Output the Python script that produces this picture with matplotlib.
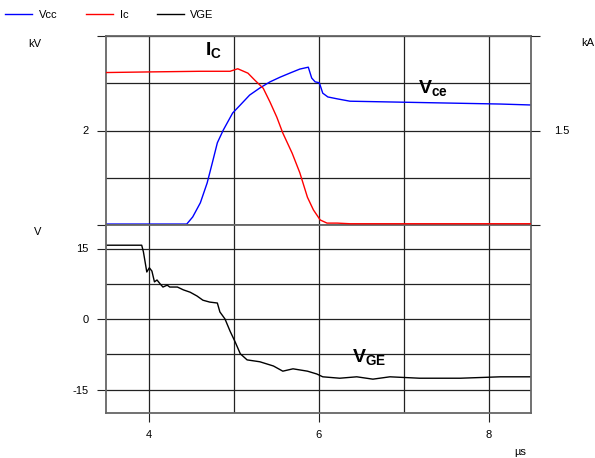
import matplotlib
matplotlib.use('Agg')
import matplotlib.pyplot as plt

plt.rcParams['font.family'] = 'Liberation Sans'
plt.rcParams['mathtext.fontset'] = 'custom'
plt.rcParams['mathtext.rm'] = 'Liberation Sans'
plt.rcParams['mathtext.bf'] = 'Liberation Sans:bold'
plt.rcParams['axes.unicode_minus'] = False

# Vcc in kV (oberes Feld, linke Achse)
t_vcc = [3.5, 4.45, 4.52, 4.61, 4.69, 4.75, 4.81, 4.88, 4.99, 5.08, 5.19, 5.31, 5.43,
         5.55, 5.67, 5.78, 5.88, 5.92, 5.96, 6.01, 6.05, 6.11, 6.22, 6.37, 6.96, 7.55, 8.14, 8.5]
vcc = [0.02, 0.02, 0.17, 0.47, 0.89, 1.31, 1.74, 2.01, 2.37, 2.54, 2.75, 2.90, 3.03,
       3.13, 3.22, 3.30, 3.34, 3.11, 3.03, 3.01, 2.79, 2.71, 2.67, 2.62, 2.60, 2.58, 2.56, 2.54]

# Ic in kA (oberes Feld, rechte Achse)
t_ic = [3.5, 4.02, 4.61, 4.96, 5.05, 5.17, 5.25, 5.35, 5.43, 5.51, 5.58, 5.69, 5.78,
        5.87, 5.94, 6.02, 6.10, 6.22, 6.37, 8.5]
ic = [2.42, 2.43, 2.44, 2.44, 2.48, 2.41, 2.30, 2.17, 1.95, 1.71, 1.46, 1.14, 0.83,
      0.44, 0.24, 0.08, 0.03, 0.03, 0.02, 0.02]

# VGE in V (unteres Feld)
t_vge = [3.51, 3.92, 3.94, 3.98, 4.01, 4.04, 4.07, 4.10, 4.14, 4.17, 4.22, 4.25, 4.34,
         4.41, 4.49, 4.57, 4.64, 4.72, 4.81, 4.84, 4.90, 4.96, 5.02, 5.08, 5.16, 5.31,
         5.47, 5.58, 5.70, 5.87, 5.98, 6.05, 6.25, 6.45, 6.64, 6.84, 7.19, 7.67, 8.14, 8.5]
vge = [15.7, 15.7, 14.3, 10.0, 10.9, 10.2, 7.9, 8.3, 7.4, 6.8, 7.2, 6.8, 6.8,
       6.2, 5.7, 4.9, 4.0, 3.6, 3.4, 1.5, 0.0, -2.6, -4.9, -7.4, -8.7, -9.1,
       -10.0, -11.1, -10.6, -11.1, -11.7, -12.3, -12.6, -12.3, -12.8, -12.3, -12.6, -12.6, -12.3, -12.3]

fig = plt.figure(figsize=(5.95, 4.58), dpi=100)
left, right = 106 / 595, 531 / 595
ax1 = fig.add_axes([left, 1 - 225 / 458, right - left, 189 / 458])
ax3 = fig.add_axes([left, 1 - 413 / 458, right - left, 188 / 458])
ax2 = ax1.twinx()

grid_kw = dict(color='#222222', linewidth=0.9)

for ax in (ax1, ax3):
    ax.set_xlim(3.5, 8.5)
    ax.set_xticks([4, 6, 8])
    ax.set_xticks([5, 7], minor=True)
    ax.grid(True, which='both', **grid_kw)
    ax.set_axisbelow(True)
    for s in ax.spines.values():
        s.set_color('#666666')
        s.set_linewidth(1.3)

ax1.plot(t_vcc, vcc, color='#0000ff', linewidth=1)
ax1.set_ylim(0, 4)
ax1.set_yticks([0, 2, 4])
ax1.set_yticklabels(['', '2', ''])
ax1.set_yticks([1, 3], minor=True)
ax1.tick_params(axis='x', which='both', length=0, labelbottom=False)
ax1.tick_params(axis='y', which='major', direction='out', length=6.5, pad=6, labelsize=8, color='#222222')
ax1.tick_params(axis='y', which='minor', length=0)

ax2.plot(t_ic, ic, color='#ff0000', linewidth=1)
ax2.set_ylim(0, 3)
ax2.set_yticks([0, 1.5, 3])
ax2.set_yticklabels(['', '1.5', ''])
ax2.tick_params(axis='y', direction='out', length=6.5, pad=10, labelsize=8, color='#222222')
for s in ax2.spines.values():
    s.set_visible(False)

ax3.plot(t_vge, vge, color='black', linewidth=1)
ax3.set_ylim(-20, 20)
ax3.set_yticks([-15, 0, 15])
ax3.set_yticks([-7.5, 7.5], minor=True)
ax3.tick_params(axis='y', which='major', direction='out', length=6.5, pad=6, labelsize=8, color='#222222')
ax3.tick_params(axis='y', which='minor', length=0)
ax3.tick_params(axis='x', which='major', direction='out', length=6.5, pad=6, labelsize=8, color='#222222')
ax3.tick_params(axis='x', which='minor', length=0)

# Einheiten
fig.text(35 / 595, 1 - 44 / 458, 'kV', fontsize=8, ha='center', va='center')
fig.text(588 / 595, 1 - 43 / 458, 'kA', fontsize=8, ha='center', va='center')
fig.text(38 / 595, 1 - 232 / 458, 'V', fontsize=8, ha='center', va='center')
fig.text(520 / 595, 1 - 452 / 458, 'µs', fontsize=8, ha='center', va='center')

# Kurvenbeschriftungen
ax1.text(4.66, 3.6, r'$\mathbf{I_C}$', fontsize=14, ha='left', va='baseline')
ax1.text(7.17, 2.79, r'$\mathbf{V_{ce}}$', fontsize=14, ha='left', va='baseline')
ax3.text(6.39, -9.1, r'$\mathbf{V_{GE}}$', fontsize=14, ha='left', va='baseline')

# Legende
h1, = ax1.plot([], [], color='#0000ff', linewidth=1)
h2, = ax1.plot([], [], color='#ff0000', linewidth=1)
h3, = ax1.plot([], [], color='black', linewidth=1)
fig.legend([h1, h2, h3], ['Vcc', 'Ic', 'VGE'], loc='upper left', bbox_to_anchor=(-0.004, 0.995),
           ncol=3, frameon=False, fontsize=8, handlelength=2.4, handletextpad=0.6,
           columnspacing=2.6, borderaxespad=0.3)

fig.savefig('out.png', dpi=100)
